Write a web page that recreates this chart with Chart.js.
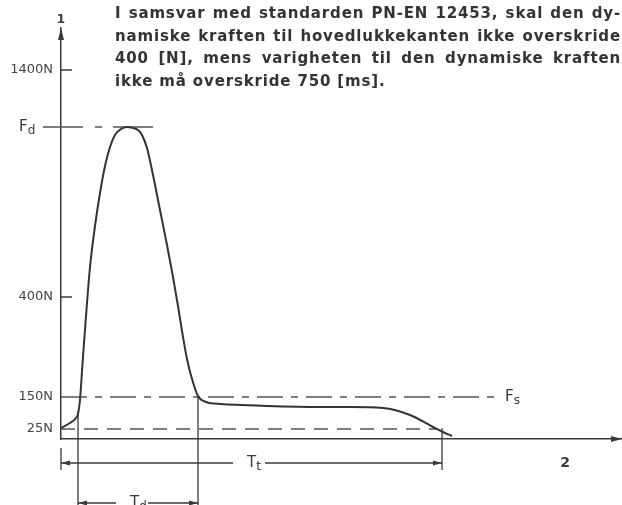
<!DOCTYPE html>
<html>
<head>
<meta charset="utf-8">
<script src="https://cdn.jsdelivr.net/npm/chart.js@4.4.1/dist/chart.umd.min.js"></script>
<style>
  html, body { margin: 0; padding: 0; background: #fff; }
  #wrap { position: relative; width: 622px; height: 505px; }
  #note { position: absolute; left: 115px; top: 2px; width: 506px; font: bold 15px "DejaVu Sans", sans-serif; letter-spacing: 0.85px; line-height: 22.5px; color: #333; }
  #note div { text-align: justify; text-align-last: justify; white-space: nowrap; }
  #note div.last { text-align-last: left; }
</style>
</head>
<body>
<div id="wrap">
  <canvas id="chartKraft" width="622" height="505"></canvas>
  <div id="note">
    <div>I samsvar med standarden PN-EN 12453, skal den dy-</div>
    <div>namiske kraften til hovedlukkekanten ikke overskride</div>
    <div>400 [N], mens varigheten til den dynamiske kraften</div>
    <div class="last">ikke må overskride 750 [ms].</div>
  </div>
</div>
<script>
// schematic force curve (time units along x, schematic force level along y)
const curveTime  = [0, 9, 15, 17, 19, 21, 23, 26, 29, 34, 39, 44, 49, 54, 60, 66, 72, 77, 81, 86, 92, 99, 106, 112, 117, 121, 126, 131, 137, 145, 160, 180, 206, 259, 289, 322, 349, 372, 382, 391];
const curveForce = [11, 16, 21, 25, 39, 68, 96, 136, 172, 213, 246, 273, 292, 304, 310, 312, 311, 309, 304, 291, 264, 229, 194, 162, 133, 108, 80, 60, 43, 37, 35, 34, 33, 32, 32, 31, 24, 12, 7, 3];

// force levels on the axis and their labels
const levelValues = [10, 42, 142, 312, 369];
const levelLabels = ['25N', '150N', '400N', '', '1400N'];

// reference lines: Fd (dash-dot), Fs / 150N, 25N
const fdLineTime = [-18, 94];
const fsLineTime = [0, 441];
const lowLineTime = [0, 377];

// time marks: start, Td start, Td end (Fs crossing), Tt end
const markTimes = [0, 17, 137, 381];

const INK = '#3a3a3a';
const LABEL_FONT = '15px "DejaVu Sans", sans-serif';
const SUB_FONT = '12px "DejaVu Sans", sans-serif';

function pts(xs, y) { return xs.map(x => ({ x: x, y: y })); }

function subLabel(ctx, main, sub, x, y) {
  ctx.font = LABEL_FONT;
  ctx.textAlign = 'left';
  ctx.textBaseline = 'middle';
  ctx.fillText(main, x, y);
  const w = ctx.measureText(main).width;
  ctx.font = SUB_FONT;
  ctx.fillText(sub, x + w, y + 4);
}

function arrowHead(ctx, x, y, dir, len, half) {
  ctx.beginPath();
  if (dir === 'left') { ctx.moveTo(x, y); ctx.lineTo(x + len, y - half); ctx.lineTo(x + len, y + half); }
  if (dir === 'right') { ctx.moveTo(x, y); ctx.lineTo(x - len, y - half); ctx.lineTo(x - len, y + half); }
  if (dir === 'up') { ctx.moveTo(x, y); ctx.lineTo(x - half, y + len); ctx.lineTo(x + half, y + len); }
  ctx.closePath();
  ctx.fill();
}

const diagramPlugin = {
  id: 'diagram',
  afterDraw(chart) {
    const ctx = chart.ctx;
    const xs = chart.scales.x, ys = chart.scales.y;
    const area = chart.chartArea;
    const X = v => xs.getPixelForValue(v);
    const Y = v => ys.getPixelForValue(v);
    ctx.save();
    ctx.strokeStyle = INK;
    ctx.fillStyle = INK;
    ctx.lineWidth = 1.5;

    // axis arrows and names
    arrowHead(ctx, area.left, area.top, 'up', 12, 3);
    arrowHead(ctx, area.right, area.bottom, 'right', 11, 3);
    ctx.font = 'bold 12px "DejaVu Sans", sans-serif';
    ctx.textAlign = 'center';
    ctx.textBaseline = 'middle';
    ctx.fillText('1', area.left, area.top - 8);
    ctx.font = 'bold 14px "DejaVu Sans", sans-serif';
    ctx.fillText('2', 565, Y(0) + 24);

    // inner tick stubs for 400N and 1400N
    [levelValues[2], levelValues[4]].forEach(v => {
      ctx.beginPath();
      ctx.moveTo(area.left, Y(v));
      ctx.lineTo(area.left + 11, Y(v));
      ctx.stroke();
    });

    // Fd and Fs labels
    subLabel(ctx, 'F', 'd', 19, Y(levelValues[3]));
    subLabel(ctx, 'F', 's', 505, Y(levelValues[1]));

    // vertical extension lines
    ctx.lineWidth = 1.3;
    const vline = (x, y0, y1) => { ctx.beginPath(); ctx.moveTo(x, y0); ctx.lineTo(x, y1); ctx.stroke(); };
    vline(X(markTimes[0]), Y(0) + 9, Y(0) + 31);
    vline(X(markTimes[1]), Y(curveForce[3]) - 3, chart.height);
    vline(X(markTimes[2]), Y(levelValues[1]), chart.height);
    vline(X(markTimes[3]), Y(levelValues[0]) - 1, Y(0) + 31);

    // dimension lines Tt and Td
    const dimLine = (t0, t1, y, main, sub, gapL, gapR) => {
      ctx.beginPath();
      ctx.moveTo(X(t0), y); ctx.lineTo(gapL, y);
      ctx.moveTo(gapR, y); ctx.lineTo(X(t1), y);
      ctx.stroke();
      arrowHead(ctx, X(t0), y, 'left', 9, 2.5);
      arrowHead(ctx, X(t1), y, 'right', 9, 2.5);
      subLabel(ctx, main, sub, gapL + 14, y);
    };
    dimLine(markTimes[0], markTimes[3], Y(0) + 24, 'T', 't', 233, 265);
    dimLine(markTimes[1], markTimes[2], Y(0) + 64, 'T', 'd', 116, 148);
    ctx.restore();
  }
};

new Chart(document.getElementById('chartKraft'), {
  type: 'line',
  data: {
    datasets: [
      { data: curveTime.map((t, i) => ({ x: t, y: curveForce[i] })), borderColor: '#333', borderWidth: 2, pointRadius: 0, cubicInterpolationMode: 'monotone', clip: false },
      { data: pts(fdLineTime, levelValues[3]), borderColor: '#555', borderWidth: 1.5, borderDash: [40, 12, 7, 11], pointRadius: 0, clip: false },
      { data: pts(fsLineTime, levelValues[1]), borderColor: '#555', borderWidth: 1.5, borderDash: [26, 8, 7, 8], pointRadius: 0, clip: false },
      { data: pts(lowLineTime, levelValues[0]), borderColor: '#555', borderWidth: 1.5, borderDash: [14, 9], pointRadius: 0, clip: false }
    ]
  },
  options: {
    responsive: false,
    animation: false,
    layout: { padding: { top: 28, bottom: 66, left: 0, right: 0 } },
    plugins: { legend: { display: false }, tooltip: { enabled: false } },
    scales: {
      x: {
        type: 'linear', min: 0, max: 561,
        ticks: { display: false },
        grid: { display: false, drawTicks: false },
        border: { color: INK, width: 1.5 },
        afterFit: s => { s.height = 0; }
      },
      y: {
        type: 'linear', min: 0, max: 411,
        afterBuildTicks: s => { s.ticks = levelValues.map(v => ({ value: v })); },
        ticks: { callback: (v, i) => levelLabels[i], color: '#444', font: { family: 'DejaVu Sans', size: 13 }, padding: 8, autoSkip: false },
        grid: { display: false, drawTicks: false },
        border: { color: INK, width: 1.5 },
        afterFit: s => { s.width = 61; }
      }
    }
  },
  plugins: [diagramPlugin]
});
</script>
</body>
</html>
